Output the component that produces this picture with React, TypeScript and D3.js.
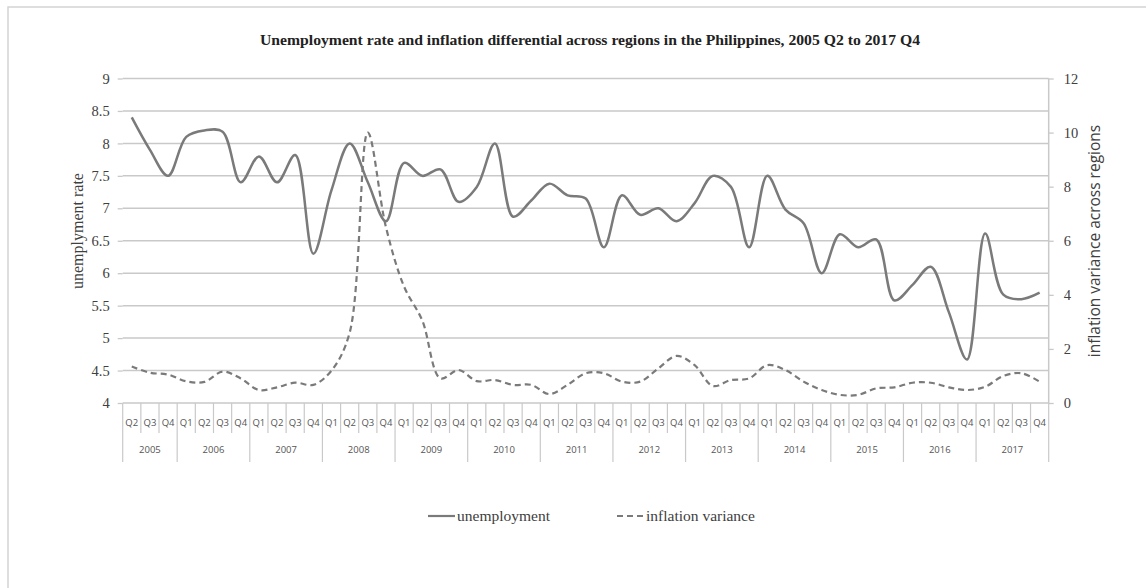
import * as d3 from "d3";
import { useEffect, useRef } from "react";

const YEARS = ["2005", "2006", "2007", "2008", "2009", "2010", "2011", "2012", "2013", "2014", "2015", "2016", "2017"];
const QUARTERS = ["Q1", "Q2", "Q3", "Q4"];
const FIRST_QUARTER = 1; // series starts at 2005 Q2

const UNEMPLOYMENT = [
  8.4, 7.9, 7.5, 8.1, 8.2, 8.18, 7.4, 7.8, 7.4, 7.82, 6.3, 7.28, 8.0, 7.4, 6.8, 7.7, 7.5,
  7.6, 7.1, 7.33, 8.0, 6.87, 7.12, 7.38, 7.2, 7.15, 6.4, 7.2, 6.9, 7.0, 6.8, 7.08, 7.5, 7.33,
  6.4, 7.5, 6.98, 6.77, 6.0, 6.6, 6.4, 6.52, 5.58, 5.82, 6.1, 5.4, 4.67, 6.61, 5.67, 5.6, 5.7,
];
const INFLATION_VAR = [
  1.35, 1.12, 1.05, 0.8, 0.78, 1.16, 0.91, 0.48, 0.58, 0.75, 0.67, 1.2, 2.6, 10.0, 6.5, 4.3, 3.05,
  0.91, 1.22, 0.81, 0.85, 0.67, 0.67, 0.33, 0.67, 1.1, 1.1, 0.79, 0.79, 1.28, 1.74, 1.4, 0.63, 0.85,
  0.91, 1.4, 1.22, 0.79, 0.48, 0.3, 0.3, 0.54, 0.58, 0.75, 0.75, 0.58, 0.48, 0.6, 1.0, 1.1, 0.79,
];
const LEFT_TICKS = [4, 4.5, 5, 5.5, 6, 6.5, 7, 7.5, 8, 8.5, 9];
const RIGHT_TICKS = [0, 2, 4, 6, 8, 10, 12];

const W = 1146;
const H = 588;
const serif = "'Liberation Serif', 'DejaVu Serif', serif";
const sans = "'Open Sans', 'Liberation Sans', sans-serif";
const LINE = "#7a7a7a";
const GRID = "#c9c9c9";
const TEXT = "#404040";

export default function App() {
  const ref = useRef<SVGSVGElement | null>(null);
  useEffect(() => {
    if (!ref.current) return;
    const svg = d3.select(ref.current);
    svg.selectAll("*").remove();

    const plot = { left: 122.7, right: 1048.7, top: 78.5, bottom: 403 };
    const cats: { year: string; q: string }[] = [];
    YEARS.forEach((yr, yi) =>
      QUARTERS.forEach((q, qi) => {
        if (yi === 0 && qi < FIRST_QUARTER) return;
        cats.push({ year: yr, q });
      })
    );
    const idx = cats.map((_, i) => i);
    const x = d3.scaleBand<number>().domain(idx).range([plot.left, plot.right]);
    const cx = (i: number) => (x(i) ?? 0) + x.bandwidth() / 2;
    const yL = d3.scaleLinear().domain([4, 9]).range([plot.bottom, plot.top]);
    const yR = d3.scaleLinear().domain([0, 12]).range([plot.bottom, plot.top]);

    // outer chart border
    svg.append("rect").attr("x", 8).attr("y", 7).attr("width", W + 10).attr("height", H)
      .attr("fill", "white").attr("stroke", "#d4d4d4").attr("stroke-width", 1.5);

    // gridlines
    svg.append("g").selectAll("line").data(LEFT_TICKS.slice(1)).join("line")
      .attr("x1", plot.left).attr("x2", plot.right)
      .attr("y1", (d) => yL(d)).attr("y2", (d) => yL(d))
      .attr("stroke", GRID).attr("stroke-width", 1.5);

    // left axis
    const axL = svg.append("g").attr("transform", `translate(${plot.left},0)`)
      .call(d3.axisLeft(yL).tickValues(LEFT_TICKS).tickSize(5).tickPadding(8).tickFormat((d) => String(d)) as any);
    axL.select(".domain").remove();
    axL.selectAll(".tick line").attr("stroke", GRID).attr("stroke-width", 1.3);
    axL.selectAll(".tick text").attr("fill", TEXT).attr("font-family", serif).attr("font-size", 14.5);

    // right axis
    const axR = svg.append("g").attr("transform", `translate(${plot.right},0)`)
      .call(d3.axisRight(yR).tickValues(RIGHT_TICKS).tickSize(5).tickPadding(10).tickFormat((d) => String(d)) as any);
    axR.select(".domain").attr("stroke", GRID).attr("stroke-width", 1.5)
      .attr("d", `M0,${plot.top}V${plot.bottom}`);
    axR.selectAll(".tick line").attr("stroke", GRID).attr("stroke-width", 1.3);
    axR.selectAll(".tick text").attr("fill", TEXT).attr("font-family", serif).attr("font-size", 14.5);

    // category axis
    const catG = svg.append("g");
    catG.append("line").attr("x1", plot.left).attr("x2", plot.right)
      .attr("y1", plot.bottom).attr("y2", plot.bottom).attr("stroke", GRID).attr("stroke-width", 1.5);
    catG.selectAll("line.qsep").data(idx).join("line").attr("class", "qsep")
      .attr("x1", (i) => x(i) ?? 0).attr("x2", (i) => x(i) ?? 0)
      .attr("y1", plot.bottom).attr("y2", (i) => (i === 0 || cats[i].q === "Q1" ? 462 : 433))
      .attr("stroke", GRID).attr("stroke-width", 1.2);
    catG.append("line").attr("x1", plot.right).attr("x2", plot.right)
      .attr("y1", plot.bottom).attr("y2", 462).attr("stroke", GRID).attr("stroke-width", 1.2);
    catG.selectAll("text.q").data(idx).join("text").attr("class", "q")
      .attr("x", cx).attr("y", 423).attr("dy", "0.35em").attr("text-anchor", "middle")
      .attr("font-family", sans).attr("font-size", 9.5).attr("fill", "#555")
      .text((i) => cats[i].q);
    catG.selectAll("text.yr").data(YEARS).join("text").attr("class", "yr")
      .attr("x", (yr) => {
        const members = idx.filter((i) => cats[i].year === yr);
        return (cx(members[0]) + cx(members[members.length - 1])) / 2;
      })
      .attr("y", 450).attr("dy", "0.35em").attr("text-anchor", "middle")
      .attr("font-family", sans).attr("font-size", 9.5).attr("fill", "#555")
      .text((yr) => yr);

    // series
    const lineL = d3.line<number>().x((_, i) => cx(i)).y((d) => yL(d)).curve(d3.curveCatmullRom.alpha(0.5));
    const lineR = d3.line<number>().x((_, i) => cx(i)).y((d) => yR(d)).curve(d3.curveCatmullRom.alpha(0.5));
    svg.append("path").datum(UNEMPLOYMENT).attr("d", lineL).attr("fill", "none")
      .attr("stroke", LINE).attr("stroke-width", 2.5);
    svg.append("path").datum(INFLATION_VAR).attr("d", lineR).attr("fill", "none")
      .attr("stroke", LINE).attr("stroke-width", 2.2).attr("stroke-dasharray", "6,4");

    // axis titles
    svg.append("text").attr("transform", `translate(77,231) rotate(-90)`).attr("dy", "0.35em")
      .attr("text-anchor", "middle").attr("font-family", serif).attr("font-size", 16).attr("fill", TEXT)
      .text("unemplyment rate");
    svg.append("text").attr("transform", `translate(1095,241) rotate(-90)`).attr("dy", "0.35em")
      .attr("text-anchor", "middle").attr("font-family", sans).attr("font-size", 15.5).attr("fill", TEXT)
      .text("inflation variance across regions");

    // title
    svg.append("text").attr("x", 590).attr("y", 40).attr("dy", "0.35em").attr("text-anchor", "middle")
      .attr("font-family", serif).attr("font-size", 15).attr("font-weight", "bold").attr("fill", "#222")
      .attr("textLength", 660).attr("lengthAdjust", "spacingAndGlyphs")
      .text("Unemployment rate and inflation differential across regions in the Philippines, 2005 Q2 to 2017 Q4");

    // legend
    const leg = svg.append("g").attr("transform", "translate(0,516)");
    leg.append("line").attr("x1", 428).attr("x2", 455).attr("stroke", LINE).attr("stroke-width", 2.2);
    leg.append("text").attr("x", 457).attr("dy", "0.35em").attr("font-family", serif).attr("font-size", 15.5)
      .attr("fill", TEXT).text("unemployment");
    leg.append("line").attr("x1", 617).attr("x2", 643).attr("stroke", LINE).attr("stroke-width", 2.2)
      .attr("stroke-dasharray", "6,4");
    leg.append("text").attr("x", 646).attr("dy", "0.35em").attr("font-family", serif).attr("font-size", 15.5)
      .attr("fill", TEXT).text("inflation variance");
  }, []);
  return (
    <svg ref={ref} width={W} height={H} style={{ position: "absolute", left: 0, top: 0, background: "white" }} />
  );
}
